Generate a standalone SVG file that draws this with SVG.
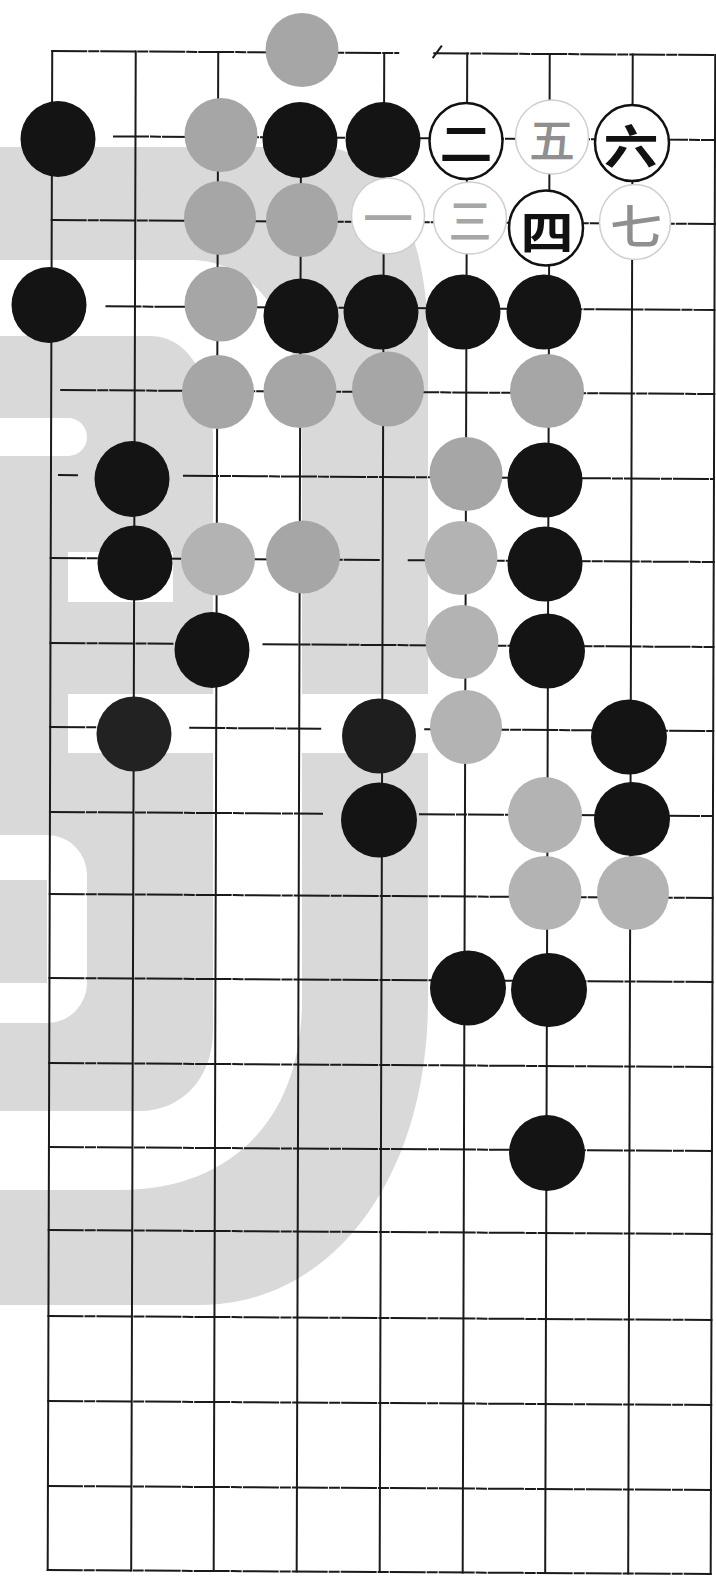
<svg xmlns="http://www.w3.org/2000/svg" width="716" height="1576" viewBox="0 0 716 1576">
<style>
.b{fill:#141414}
.g{fill:#a6a6a6}
.gl{fill:#b3b3b3}
.w{fill:#fff;stroke:#111;stroke-width:2.5}
.wf{fill:#fff;stroke:#cfcfcf;stroke-width:1.5}
.t{font-family:"Noto Sans CJK SC","Noto Sans CJK JP",sans-serif;font-size:46px;text-anchor:middle;dominant-baseline:central;font-weight:700;fill:#111}
.tf{fill:#8f8f8f;font-weight:500}
.h{stroke-dasharray:34 3 9 3}
.v{stroke-dasharray:70 2}
</style>
<rect width="716" height="1576" fill="#fff"/>
<g id="watermark">
<path fill="#d9d9d9" d="M0,147 H320 C390,147 428,240 428,340 V1000 C428,1180 330,1305 200,1305 H0 Z"/>
<path fill="#fff" d="M0,260 H190 C260,260 302,330 302,430 V1000 C302,1120 230,1190 120,1190 H0 Z"/>
<path fill="#d9d9d9" d="M0,336 H150 C190,336 213,380 213,440 V1030 C213,1080 180,1111 140,1111 H0 Z"/>
<path fill="#fff" d="M0,418 H68 A19,19 0 0 1 68,456 H0 Z"/>
<rect fill="#fff" x="68" y="552" width="105" height="50"/>
<rect fill="#fff" x="68" y="694" width="360" height="59"/>
<path fill="#fff" d="M0,835 H47 A40,40 0 0 1 87,875 V983 A40,40 0 0 1 47,1023 H0 Z"/>
<rect fill="#d9d9d9" x="0" y="880" width="47" height="103"/>
</g>
<g id="connectors" transform="matrix(1 0.006 -0.003 1 2.4 -2.28)" stroke="#1a1a1a" stroke-width="2" fill="none" stroke-linecap="square">
<g class="h">
<path d="M50,53 H396 M432,53 H713"/>
<path d="M112,138 H713"/>
<path d="M50,222 H713"/>
<path d="M105,308 H713"/>
<path d="M60,392 H713"/>
<path d="M58,477 H76 M183,477 H713"/>
<path d="M50,560 H378 M408,560 H713"/>
<path d="M50,645 H172 M263,645 H713"/>
<path d="M50,729 H95 M190,729 H320 M425,729 H713"/>
<path d="M50,814 H322 M420,814 H713"/>
<path d="M50,896 H713"/>
<path d="M50,980 H713"/>
<path d="M50,1065 H713"/>
<path d="M50,1149 H713"/>
<path d="M50,1232 H713"/>
<path d="M50,1318 H713"/>
<path d="M50,1403 H713"/>
<path d="M50,1488 H713"/>
<path d="M50,1572 H713"/>
</g>
<g class="v">
<path d="M50,53 V1572"/>
<path d="M133.5,53 V1572"/>
<path d="M216,53 V1572"/>
<path d="M299,137 V1572"/>
<path d="M382,53 V1572"/>
<path d="M465,53 V1572"/>
<path d="M547.5,53 V1572"/>
<path d="M630.5,53 V1572"/>
<path d="M713,53 V1572"/>
</g>
<path d="M431,57 L439,46"/>
</g>
<g id="stones">
<g id="s-r0-c3"><ellipse class="g" cx="302" cy="50" rx="36.5" ry="37"/></g>
<g id="s-r1-c0"><ellipse class="b" cx="58" cy="139" rx="37.5" ry="38"/></g>
<g id="s-r1-c2"><ellipse class="g" cx="221" cy="135" rx="36.5" ry="37"/></g>
<g id="s-r1-c3"><ellipse class="b" cx="300" cy="140" rx="37.5" ry="38"/></g>
<g id="s-r1-c4"><ellipse class="b" cx="383" cy="140" rx="37.5" ry="38"/></g>
<g id="s-r1-c5"><ellipse class="w" cx="466" cy="141" rx="36.5" ry="38"/><text class="t" x="466" y="140" textLength="53" lengthAdjust="spacingAndGlyphs">二</text></g>
<g id="s-r1-c6"><ellipse class="wf" cx="552" cy="137" rx="36.5" ry="37"/><text class="t tf" x="552" y="137" textLength="46" lengthAdjust="spacingAndGlyphs">五</text></g>
<g id="s-r1-c7"><ellipse class="w" cx="632" cy="143" rx="37" ry="38"/><text class="t" x="631" y="143" textLength="55" lengthAdjust="spacingAndGlyphs">六</text></g>
<g id="s-r2-c2"><ellipse class="g" cx="220" cy="218" rx="36" ry="37"/></g>
<g id="s-r2-c3"><ellipse class="g" cx="302" cy="220" rx="36" ry="37"/></g>
<g id="s-r2-c4"><ellipse class="wf" cx="388" cy="216" rx="36.5" ry="38"/><text class="t tf" x="388" y="215" textLength="50" lengthAdjust="spacingAndGlyphs" style="fill:#a6a6a6">一</text></g>
<g id="s-r2-c5"><ellipse class="wf" cx="470" cy="218" rx="36.5" ry="36"/><text class="t tf" x="470" y="218" textLength="43" lengthAdjust="spacingAndGlyphs" style="fill:#a6a6a6">三</text></g>
<g id="s-r2-c6"><ellipse class="w" cx="546" cy="228" rx="37" ry="37.5"/><text class="t" x="547" y="229" textLength="53" lengthAdjust="spacingAndGlyphs">四</text></g>
<g id="s-r2-c7"><ellipse class="wf" cx="635" cy="222" rx="35.5" ry="37.5"/><text class="t tf" x="636" y="223" textLength="52" lengthAdjust="spacingAndGlyphs">七</text></g>
<g id="s-r3-c0"><ellipse class="b" cx="49" cy="305" rx="37.5" ry="38"/></g>
<g id="s-r3-c2"><ellipse class="g" cx="221" cy="304" rx="36.5" ry="37.5"/></g>
<g id="s-r3-c3"><ellipse class="b" cx="301" cy="316" rx="37.5" ry="37.5"/></g>
<g id="s-r3-c4"><ellipse class="b" cx="381" cy="312" rx="37.5" ry="37.5"/></g>
<g id="s-r3-c5"><ellipse class="b" cx="463" cy="312" rx="37.5" ry="37.5"/></g>
<g id="s-r3-c6"><ellipse class="b" cx="544" cy="312" rx="37.5" ry="37.5"/></g>
<g id="s-r4-c2"><ellipse class="g" cx="218" cy="392" rx="36" ry="37"/></g>
<g id="s-r4-c3"><ellipse class="g" cx="300" cy="391" rx="36.5" ry="37"/></g>
<g id="s-r4-c4"><ellipse class="g" cx="388" cy="389" rx="36" ry="37.5"/></g>
<g id="s-r4-c6"><ellipse class="g" cx="547" cy="391" rx="37" ry="37"/></g>
<g id="s-r5-c1"><ellipse class="b" cx="132" cy="479" rx="37.5" ry="38"/></g>
<g id="s-r5-c5"><ellipse class="g" cx="466" cy="474" rx="36.5" ry="37"/></g>
<g id="s-r5-c6"><ellipse class="b" cx="545" cy="480" rx="37.5" ry="37.5"/></g>
<g id="s-r6-c1"><ellipse class="b" cx="135" cy="563" rx="37.5" ry="37.5"/></g>
<g id="s-r6-c2"><ellipse class="gl" cx="218" cy="559" rx="37" ry="36.5"/></g>
<g id="s-r6-c3"><ellipse class="g" cx="303" cy="557" rx="37" ry="36.5"/></g>
<g id="s-r6-c5"><ellipse class="gl" cx="461" cy="558" rx="36.5" ry="37"/></g>
<g id="s-r6-c6"><ellipse class="b" cx="545" cy="564" rx="37.5" ry="37.5"/></g>
<g id="s-r7-c2"><ellipse class="b" cx="212" cy="650" rx="37.5" ry="38"/></g>
<g id="s-r7-c5"><ellipse class="gl" cx="462" cy="642" rx="36.5" ry="37"/></g>
<g id="s-r7-c6"><ellipse class="b" cx="547" cy="651" rx="38" ry="37.5"/></g>
<g id="s-r8-c1"><ellipse class="b" cx="134" cy="734" rx="37.5" ry="37.5" style="fill:#222"/></g>
<g id="s-r8-c4"><ellipse class="b" cx="379" cy="736" rx="37" ry="37.5" style="fill:#1e1e1e"/></g>
<g id="s-r8-c5"><ellipse class="gl" cx="466" cy="727" rx="36" ry="37"/></g>
<g id="s-r8-c7"><ellipse class="b" cx="629" cy="737" rx="38" ry="37.5"/></g>
<g id="s-r9-c4"><ellipse class="b" cx="379" cy="820" rx="38" ry="37.5"/></g>
<g id="s-r9-c6"><ellipse class="gl" cx="545" cy="815" rx="37" ry="38"/></g>
<g id="s-r9-c7"><ellipse class="b" cx="632" cy="819" rx="38" ry="37"/></g>
<g id="s-r10-c6"><ellipse class="gl" cx="545" cy="893" rx="36.5" ry="37"/></g>
<g id="s-r10-c7"><ellipse class="gl" cx="633" cy="893" rx="36" ry="37"/></g>
<g id="s-r11-c5"><ellipse class="b" cx="468" cy="988" rx="38" ry="37.5"/></g>
<g id="s-r11-c6"><ellipse class="b" cx="549" cy="990" rx="38" ry="37"/></g>
<g id="s-r13-c6"><ellipse class="b" cx="547" cy="1153" rx="38" ry="38"/></g>
</g>
</svg>
